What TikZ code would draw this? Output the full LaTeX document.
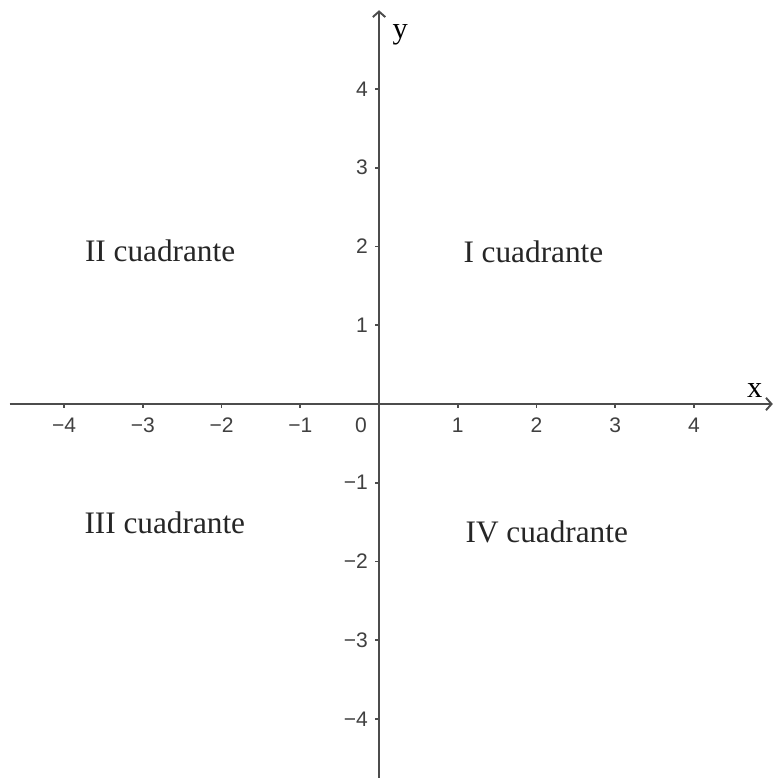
\documentclass[tikz,border=0pt]{standalone}
\usepackage{fontspec}
\setmainfont{Liberation Serif}
\setsansfont{Liberation Sans}
\usepackage{tikz}
\usetikzlibrary{arrows.meta}

\begin{document}
\begin{tikzpicture}[
 >={Straight Barb[length=2pt,width=4.5pt]},
 axis/.style={draw=black!70, line width=0.7pt},
 tick/.style={draw=black!70, line width=0.6pt},
 ticklbl/.style={font=\sffamily\fontsize{7.6}{9}\selectfont, text=black!75, inner sep=1pt},
 quad/.style={font=\fontsize{11.3}{13}\selectfont, text=black!85}]
\useasboundingbox[fill=white] (-4.813,-4.749) rectangle (5.029,5.130);
% axes
\coordinate (xmin) at (-4.69,0);
\coordinate (xmax) at (5.0,0);
\coordinate (ymin) at (0,-4.76);
\coordinate (ymax) at (0,5.0);
\draw[axis,->] (xmin) -- (xmax);
\draw[axis,->] (ymin) -- (ymax);
\node[font=\fontsize{11}{13}\selectfont] (xlbl) at (4.77,0.17) {x};
\node[font=\fontsize{11}{13}\selectfont] (ylbl) at (0.27,4.69) {y};
% ticks
\foreach \k/\t in {-4/−4,-3/−3,-2/−2,-1/−1,1/1,2/2,3/3,4/4}{
  \draw[tick] (\k,0) -- (\k,-0.05);
  \draw[tick] (0,\k) -- (-0.05,\k);
  \node[ticklbl] (tx\k) at (\k,-0.27) {\t};
  \node[ticklbl, anchor=east] (ty\k) at (-0.1,\k) {\t};
}
\node[ticklbl] (t0) at (-0.23,-0.27) {0};
% quadrants
\node[quad] (q1) at (1.96,1.93) {I cuadrante};
\node[quad] (q2) at (-2.78,1.94) {II cuadrante};
\node[quad] (q3) at (-2.72,-1.51) {III cuadrante};
\node[quad] (q4) at (2.13,-1.63) {IV cuadrante};
\end{tikzpicture}
\end{document}
